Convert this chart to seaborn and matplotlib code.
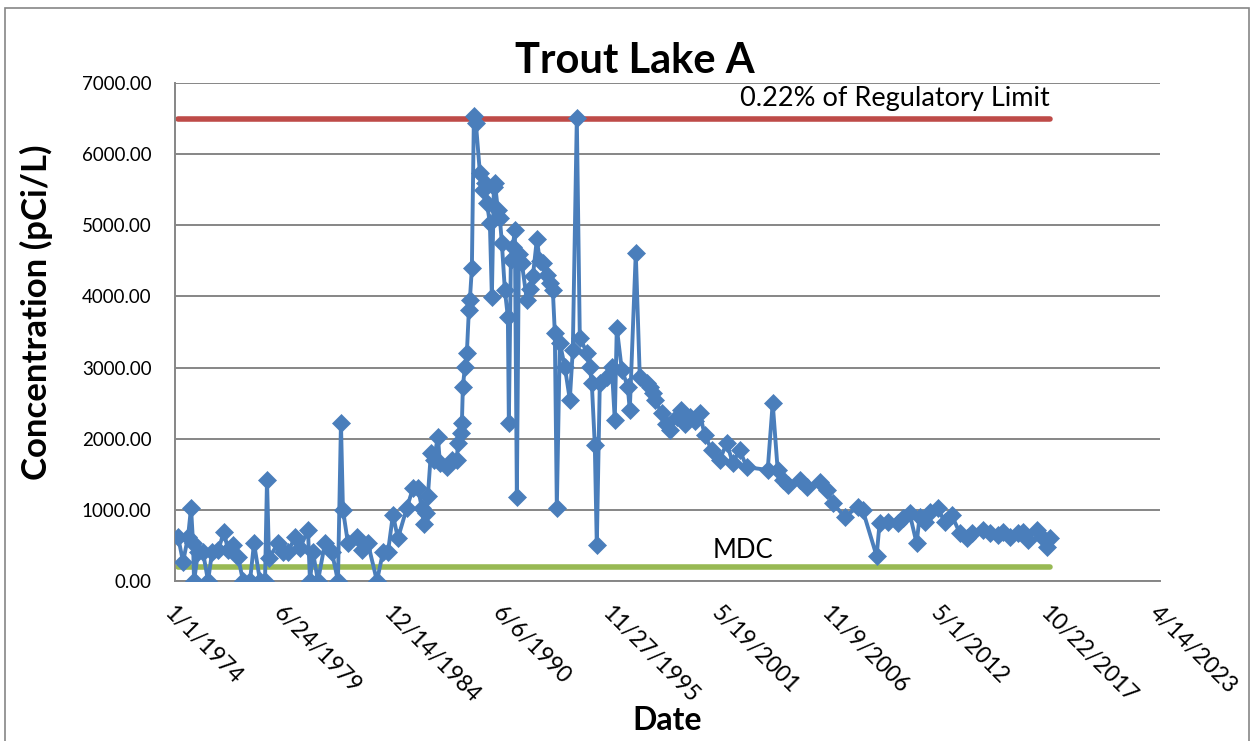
import numpy as np
import pandas as pd
import matplotlib
matplotlib.use("Agg")
import matplotlib.pyplot as plt
from matplotlib.patches import Rectangle
import seaborn as sns

# sample times (decimal year) and tritium concentration (pCi/L)
sample_year = [
    1974.15, 1974.40, 1974.65, 1974.80, 1974.90, 1974.95, 1975.15, 1975.40, 1975.65, 1975.85,
    1976.15, 1976.45, 1976.65, 1976.90, 1977.15, 1977.40, 1977.75, 1977.95, 1978.25, 1978.50,
    1978.60, 1978.70, 1979.15, 1979.40, 1979.65, 1980.00, 1980.25, 1980.65, 1980.75, 1980.90,
    1981.15, 1981.50, 1981.85, 1982.15, 1982.30, 1982.40, 1982.65, 1983.10, 1983.35, 1983.65,
    1984.10, 1984.40, 1984.65, 1984.90, 1985.15, 1985.60, 1985.90, 1986.15, 1986.35, 1986.45,
    1986.55, 1986.65, 1986.80, 1986.95, 1987.15, 1987.25, 1987.60, 1987.85, 1988.10, 1988.15,
    1988.30, 1988.35, 1988.40, 1988.50, 1988.60, 1988.70, 1988.75, 1988.85, 1988.95, 1989.05,
    1989.25, 1989.40, 1989.50, 1989.60, 1989.75, 1989.85, 1989.95, 1990.00, 1990.15, 1990.25,
    1990.35, 1990.50, 1990.65, 1990.70, 1990.80, 1990.90, 1991.00, 1991.10, 1991.20, 1991.35,
    1991.60, 1991.75, 1991.90, 1992.10, 1992.25, 1992.40, 1992.60, 1992.75, 1992.90, 1993.00,
    1993.10, 1993.25, 1993.50, 1993.75, 1993.90, 1994.10, 1994.25, 1994.60, 1994.75, 1994.85,
    1995.00, 1995.10, 1995.25, 1995.60, 1995.85, 1996.00, 1996.10, 1996.35, 1996.65, 1996.75,
    1997.05, 1997.25, 1997.60, 1997.75, 1997.90, 1998.00, 1998.35, 1998.55, 1998.75, 1999.10,
    1999.30, 1999.50, 1999.75, 2000.00, 2000.25, 2000.50, 2000.85, 2001.25, 2001.60, 2001.90,
    2002.25, 2002.60, 2003.65, 2003.90, 2004.15, 2004.40, 2004.65, 2005.25, 2005.60, 2006.25,
    2006.60, 2006.90, 2007.50, 2008.15, 2008.40, 2009.10, 2009.25, 2009.65, 2010.15, 2010.40,
    2010.75, 2011.10, 2011.25, 2011.50, 2011.75, 2012.15, 2012.50, 2012.85, 2013.25, 2013.60,
    2013.85, 2014.40, 2014.75, 2015.15, 2015.40, 2015.75, 2016.15, 2016.40, 2016.65, 2017.10,
    2017.35, 2017.60, 2017.75,
]
concentration = [
    620, 270, 620, 1030, 530, 0, 400, 400, 0, 400,
    430, 690, 430, 500, 340, 0, 0, 530, 0, 0,
    1420, 320, 530, 400, 400, 620, 460, 720, 0, 400,
    0, 530, 400, 0, 2220, 1000, 530, 620, 440, 530,
    0, 400, 400, 930, 600, 1030, 1300, 1300, 1030, 800,
    950, 1200, 1800, 1700, 2030, 1660, 1600, 1700, 1700, 1940,
    2080, 2220, 2730, 3010, 3210, 3810, 3950, 4400, 6530, 6440,
    5740, 5500, 5600, 5320, 5030, 3990, 5540, 5600, 5220, 5100,
    4750, 4090, 3710, 2220, 4510, 4700, 4940, 1180, 4600, 4470,
    3950, 4100, 4280, 4800, 4500, 4470, 4300, 4190, 4090, 3490,
    1030, 3350, 3010, 2550, 3250, 6510, 3420, 3210, 3010, 2780,
    1910, 500, 2780, 2870, 3010, 2260, 3560, 2970, 2730, 2400,
    4610, 2870, 2780, 2730, 2640, 2550, 2360, 2200, 2120, 2310,
    2400, 2200, 2310, 2250, 2360, 2050, 1840, 1700, 1940, 1660,
    1840, 1600, 1560, 2500, 1560, 1420, 1350, 1420, 1320, 1390,
    1280, 1100, 900, 1040, 1000, 350, 820, 830, 820, 890,
    950, 530, 900, 830, 970, 1030, 830, 930, 680, 600,
    680, 720, 680, 650, 690, 620, 680, 690, 580, 720,
    620, 480, 600,
]

regulatory_level = 6500   # 0.22% of regulatory limit
mdc_level = 200
axis_start = "1974-01-01"
axis_end = "2023-04-14"

start = pd.Timestamp(axis_start)
dates = start + pd.to_timedelta((np.array(sample_year) - 1974) * 365.25, unit="D")
df = pd.DataFrame({"Date": dates, "Concentration": concentration})

sns.set_theme(style="white")
plt.rcParams["font.family"] = ["Lato", "DejaVu Sans"]
plt.rcParams["text.color"] = "black"
plt.rcParams["axes.labelcolor"] = "black"
plt.rcParams["xtick.color"] = "black"
plt.rcParams["ytick.color"] = "black"

fig = plt.figure(figsize=(12.54, 7.41), dpi=100)
ax = fig.add_axes([0.1396, 0.216, 0.7855, 0.672])

blue = "#4A7EBB"
red = "#BE4B48"
green = "#98B954"

ref_x = [df["Date"].iloc[0], df["Date"].iloc[-1]]
ax.plot(ref_x, [regulatory_level] * 2, color=red, lw=4, solid_capstyle="round", zorder=2)
ax.plot(ref_x, [mdc_level] * 2, color=green, lw=4, solid_capstyle="round", zorder=2)

sns.lineplot(data=df, x="Date", y="Concentration", ax=ax, color=blue, lw=2.8,
             marker="D", markersize=9, markeredgecolor=blue, markeredgewidth=0.5,
             estimator=None, sort=False, zorder=3)

ax.text(df["Date"].iloc[-1], 6780, "0.22% of Regulatory Limit", ha="right", va="center",
        fontsize=19.5, color="black")
ax.text(pd.Timestamp("2002-06-01"), 430, "MDC", ha="center", va="center",
        fontsize=18.5, color="black")

# axes
ax.set_ylim(0, 7000)
ax.set_yticks(np.arange(0, 7001, 1000))
ax.set_yticklabels([f"{v:.2f}" for v in range(0, 7001, 1000)], fontsize=13.5)
ax.yaxis.grid(True, color="#868686", lw=1.4)
ax.set_axisbelow(True)

xticks = pd.date_range(axis_start, periods=10, freq="2000D")
ax.set_xlim(start, pd.Timestamp(axis_end))
ax.set_xticks(xticks)
ax.set_xticklabels([f"{d.month}/{d.day}/{d.year}" for d in xticks], fontsize=16.5,
                   rotation=-45, ha="left", rotation_mode="anchor")

for side in ["top", "right"]:
    ax.spines[side].set_visible(False)
for side in ["left", "bottom"]:
    ax.spines[side].set_color("#868686")
    ax.spines[side].set_linewidth(1.4)
ax.tick_params(axis="both", which="major", direction="out", length=6, width=1.4,
               color="#868686")
ax.tick_params(axis="y", pad=11)
ax.tick_params(axis="x", pad=9)

ax.set_xlabel("Date", fontsize=23, fontweight="bold", labelpad=0)
ax.set_ylabel("Concentration (pCi/L)", fontsize=25, fontweight="bold")
ax.yaxis.set_label_coords(-0.124, 0.54)
fig.text(0.506, 0.918, "Trout Lake A", ha="center", va="center", fontsize=30,
         fontweight="bold")

# chart border
fig.patches.append(Rectangle((0.004, -0.01), 0.992, 0.999, transform=fig.transFigure,
                             fill=False, edgecolor="#868686", lw=1.2))

fig.savefig("out.png", dpi=100)
